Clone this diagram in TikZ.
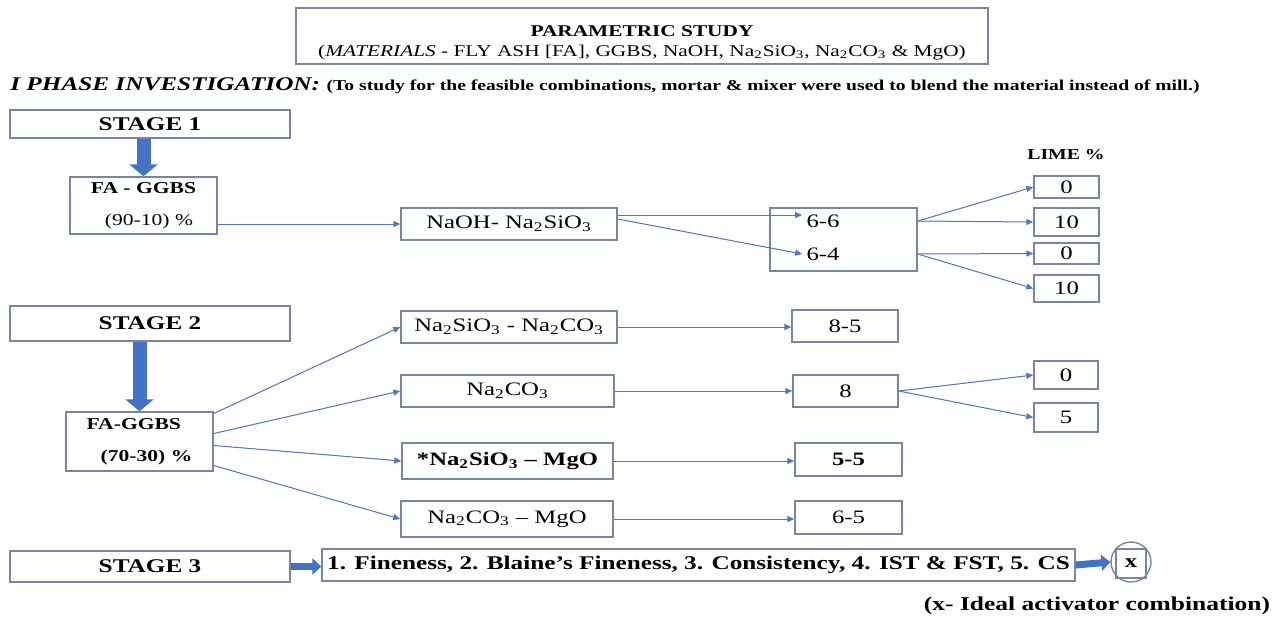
\documentclass[tikz,border=0pt]{standalone}
\usepackage{fontspec}
\setmainfont[FakeStretch=1.3]{Liberation Serif}
\usetikzlibrary{arrows.meta, positioning}
\definecolor{boxline}{RGB}{120,134,160}
\definecolor{arrowblue}{RGB}{84,118,190}
\definecolor{fatblue}{RGB}{68,114,196}
\tikzstyle{block} = [rectangle, draw=boxline, line width=0.7pt, inner sep=0pt, text centered, font=\fontsize{9.5}{11}\selectfont]
\tikzstyle{stagebox} = [block, minimum width=140pt, font=\fontsize{9.7}{11}\selectfont\bfseries]
\tikzstyle{mixbox} = [block, minimum width=73.5pt, align=left, font=\fontsize{8.3}{10}\selectfont]
\tikzstyle{limebox} = [block, minimum width=32.5pt]
\tikzstyle{ratiotext} = [inner sep=2pt, font=\fontsize{9.5}{11}\selectfont]
\tikzstyle{arrow} = [-{Triangle[length=3.5pt,width=3pt]}, draw=arrowblue, fill=arrowblue, line width=0.5pt]
\tikzstyle{fatarrow} = [-{Triangle[length=6pt,width=14pt]}, draw=fatblue, line width=7pt]
\tikzstyle{flatarrow} = [-{Triangle[length=4.5pt,width=8pt]}, draw=fatblue, line width=3.5pt]
\newcommand{\nasil}{Na\textsubscript{2}SiO\textsubscript{3}}
\newcommand{\nacarb}{Na\textsubscript{2}CO\textsubscript{3}}

\begin{document}
\begin{tikzpicture}[x=0.5pt, y=-0.5pt]
\useasboundingbox (0,0) rectangle (1277,618);
% Define nodes
\node (title) [block, minimum width=346pt, minimum height=28pt, align=center] at (642,36) {{\fontsize{8.2}{10}\selectfont\bfseries\rule{0pt}{12pt}PARAMETRIC STUDY}\\[-1pt]{\fontsize{8.2}{10}\selectfont (\textit{MATERIALS} - FLY ASH [FA], GGBS, NaOH, \nasil, \nacarb{} \& MgO)}};
\node (phase) [anchor=west, inner sep=0pt] at (10,86) {{\fontsize{9.7}{11}\selectfont\bfseries\itshape I PHASE INVESTIGATION:} {\fontsize{7.55}{9}\selectfont\bfseries (To study for the feasible combinations, mortar \& mixer were used to blend the material instead of mill.)}};
% Stage 1
\node (stageOne) [stagebox, minimum height=14pt] at (150,124) {STAGE 1};
\node (faOne) [mixbox, minimum height=28.5pt] at (143.5,205.5) {\textbf{FA - GGBS}\\[6pt]\hspace*{7pt}(90-10) \%};
\node (naohSil) [block, minimum width=108pt, minimum height=16pt] at (509,224) {NaOH- \nasil};
\node (ratioOne) [block, minimum width=73.5pt, minimum height=31.5pt] at (843.5,239.5) {};
\node (sixSix) [ratiotext] at (823,221) {6-6};
\node (sixFour) [ratiotext] at (823,254) {6-4};
\node (limeHead) [font=\fontsize{7.6}{9}\selectfont\bfseries] at (1066,155) {LIME \%};
\node (limeA) [limebox, minimum height=11pt] at (1066.5,187) {0};
\node (limeB) [limebox, minimum height=14pt] at (1066.5,222) {10};
\node (limeC) [limebox, minimum height=10.5pt] at (1066.5,253.5) {0};
\node (limeD) [limebox, minimum height=13.5pt] at (1066.5,288.5) {10};
% Stage 2
\node (stageTwo) [stagebox, minimum height=17.5pt] at (150,323.5) {STAGE 2};
\node (faTwo) [mixbox, minimum height=29.5pt, font=\fontsize{8.3}{10}\selectfont\bfseries] at (139.5,441.5) {FA-GGBS\\[6pt]\hspace*{7pt}(70-30) \%};
\node (silCarb) [block, minimum width=108pt, minimum height=16pt] at (509,327) {\nasil{} - \nacarb};
\node (carb) [block, minimum width=106.5pt, minimum height=16pt] at (507.5,391) {\nacarb};
\node (silMag) [block, minimum width=105.5pt, minimum height=18pt, font=\fontsize{9.5}{11}\selectfont\bfseries] at (507.5,461) {*\nasil{} -- MgO};
\node (carbMag) [block, minimum width=106pt, minimum height=18pt] at (507,519) {\nacarb{} -- MgO};
\node (eightFive) [block, minimum width=53pt, minimum height=16pt] at (845,326) {8-5};
\node (eight) [block, minimum width=52.5pt, minimum height=16pt] at (845.5,391) {8};
\node (fiveFive) [block, minimum width=53.5pt, minimum height=16.5pt, font=\fontsize{9.5}{11}\selectfont\bfseries] at (848.5,459.5) {5-5};
\node (sixFive) [block, minimum width=53.5pt, minimum height=16.5pt] at (848.5,517.5) {6-5};
\node (limeE) [limebox, minimum width=32pt, minimum height=14pt] at (1066,375) {0};
\node (limeF) [limebox, minimum width=32pt, minimum height=14.5pt] at (1066,417.5) {5};
% Stage 3
\node (stageThree) [stagebox, minimum height=15.5pt] at (150,566.5) {STAGE 3};
\node (tests) [block, minimum width=376.5pt, minimum height=16pt, font=\fontsize{9.7}{11}\selectfont\bfseries] at (698.5,565) {1. Fineness, 2. Blaine’s Fineness, 3. Consistency, 4. IST \& FST, 5. CS};
\node (xBox) [block, minimum width=15pt, minimum height=14.5pt, font=\fontsize{9.5}{11}\selectfont\bfseries] at (1131,563.5) {x};
\node (xCircle) [circle, draw=boxline, line width=0.7pt, minimum size=20pt, inner sep=0pt] at (1131,562) {};
\node (note) [font=\fontsize{9.8}{11}\selectfont\bfseries] at (1097,606) {(x- Ideal activator combination)};
% Connect nodes with arrows
\draw [fatarrow] (stageOne.south -| faOne.north) -- (faOne.north);
\draw [arrow] (faOne.east |- naohSil.west) -- (naohSil.west);
\draw [arrow] ([yshift=4.5pt]naohSil.east) -- ([yshift=4.5pt]naohSil.east -| sixSix.west);
\draw [arrow] ([yshift=2.5pt]naohSil.east) -- (sixFour.west);
\draw [arrow] (ratioOne.east |- sixSix) -- (limeA.west);
\draw [arrow] (ratioOne.east |- sixSix) -- (limeB.west);
\draw [arrow] (ratioOne.east |- sixFour) -- (limeC.west);
\draw [arrow] (ratioOne.east |- sixFour) -- (limeD.west);
\draw [fatarrow] (stageTwo.south -| faTwo.north) -- (faTwo.north);
\draw [arrow] ([yshift=14pt]faTwo.east) -- (silCarb.west);
\draw [arrow] ([yshift=4pt]faTwo.east) -- (carb.west);
\draw [arrow] ([yshift=-2pt]faTwo.east) -- (silMag.west);
\draw [arrow] ([yshift=-12pt]faTwo.east) -- (carbMag.west);
\draw [arrow] (silCarb.east) -- (silCarb.east -| eightFive.west);
\draw [arrow] (carb.east) -- (carb.east -| eight.west);
\draw [arrow] (silMag.east) -- (silMag.east -| fiveFive.west);
\draw [arrow] (carbMag.east) -- (carbMag.east -| sixFive.west);
\draw [arrow] (eight.east) -- (limeE.west);
\draw [arrow] (eight.east) -- (limeF.west);
\draw [flatarrow] (stageThree.east) -- (stageThree.east -| tests.west);
\draw [flatarrow] (tests.east) -- (xCircle.west);
\end{tikzpicture}
\end{document}
